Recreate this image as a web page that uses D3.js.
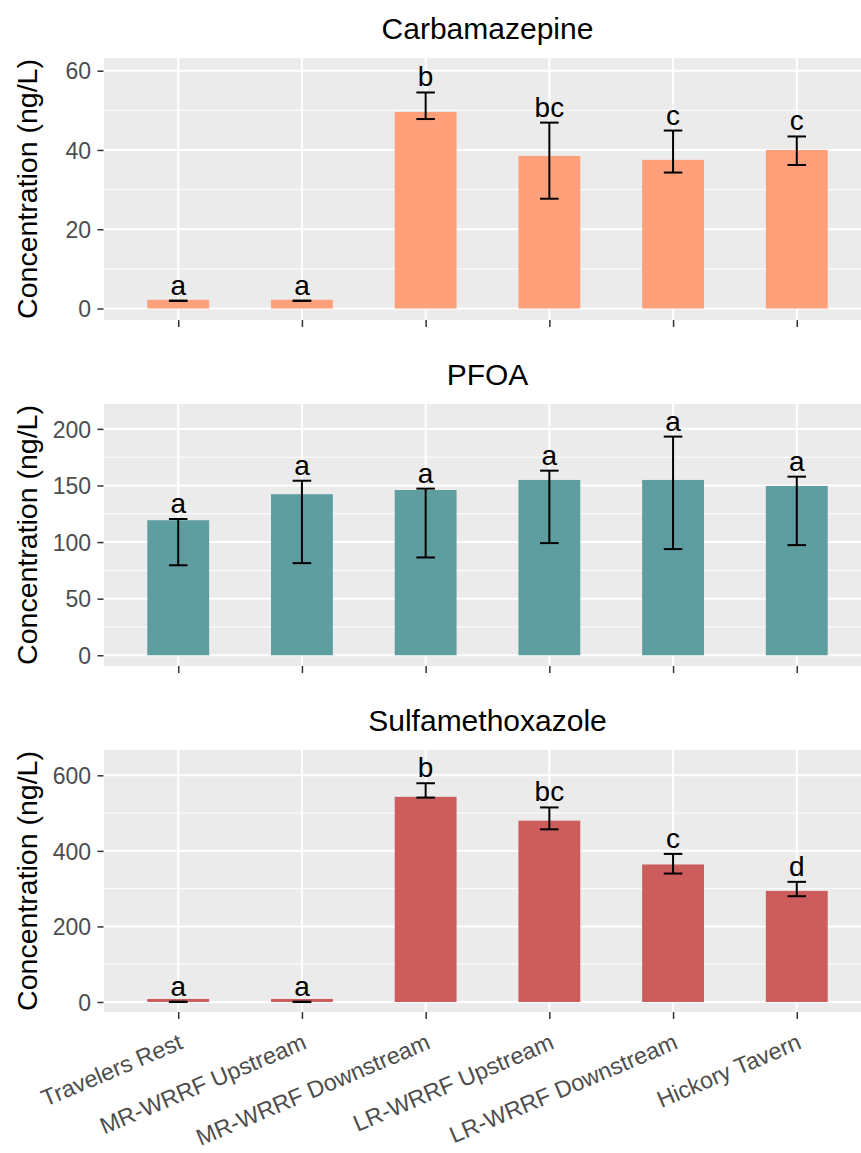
<!DOCTYPE html>
<html>
<head>
<meta charset="utf-8">
<script src="https://cdn.jsdelivr.net/npm/d3@7"></script>
<style>
  html, body { margin: 0; padding: 0; background: #ffffff; }
  svg { display: block; font-family: "Liberation Sans", Arial, sans-serif; }
</style>
</head>
<body>
<script>
// ---------------- data ----------------
const sites = ["Travelers Rest", "MR-WRRF Upstream", "MR-WRRF Downstream",
               "LR-WRRF Upstream", "LR-WRRF Downstream", "Hickory Tavern"];

const titles = ["Carbamazepine", "PFOA", "Sulfamethoxazole"];

const carbMean = [2.2, 2.2, 49.6, 38.5, 37.5, 40.0];
const carbLow  = [1.9, 1.9, 47.8, 27.7, 34.3, 36.2];
const carbHigh = [2.0, 2.0, 54.5, 46.9, 44.9, 43.4];
const carbLetters = ["a", "a", "b", "bc", "c", "c"];

const pfoaMean = [119.3, 142.3, 146.0, 154.9, 154.9, 149.6];
const pfoaLow  = [79.5, 81.4, 86.4, 99.1, 93.8, 97.3];
const pfoaHigh = [120.4, 154.2, 147.2, 163.1, 193.2, 157.8];
const pfoaLetters = ["a", "a", "a", "a", "a", "a"];

const sulfaMean = [8, 8, 543, 480, 364, 294];
const sulfaLow  = [0, 0, 541, 457, 340, 280];
const sulfaHigh = [1, 1, 579, 515, 392, 318];
const sulfaLetters = ["a", "a", "b", "bc", "c", "d"];

const carbTicks  = [0, 20, 40, 60];
const pfoaTicks  = [0, 50, 100, 150, 200];
const sulfaTicks = [0, 200, 400, 600];

const carbMinor  = [10, 30, 50];
const pfoaMinor  = [25, 75, 125, 175];
const sulfaMinor = [100, 300, 500];

const yLabel = "Concentration (ng/L)";

// ---------------- layout / style ----------------
const W = 861, H = 1153;
const panelLeft = 104, panelRight = 871;
const layout = [
  { top: 58,  bottom: 320,  titleY: 38.5, domain: [-2.9, 63.2], color: "#FFA07A" },
  { top: 404, bottom: 666,  titleY: 385,  domain: [-9.5, 222],  color: "#5F9EA0" },
  { top: 750, bottom: 1012, titleY: 731,  domain: [-26.5, 667], color: "#CD5C5C" }
];

const panels = [
  { title: titles[0], mean: carbMean, low: carbLow, high: carbHigh, letters: carbLetters, ticks: carbTicks, minor: carbMinor },
  { title: titles[1], mean: pfoaMean, low: pfoaLow, high: pfoaHigh, letters: pfoaLetters, ticks: pfoaTicks, minor: pfoaMinor },
  { title: titles[2], mean: sulfaMean, low: sulfaLow, high: sulfaHigh, letters: sulfaLetters, ticks: sulfaTicks, minor: sulfaMinor }
];

const svg = d3.select("body").append("svg")
  .attr("width", W).attr("height", H)
  .attr("viewBox", `0 0 ${W} ${H}`);

const x = d3.scalePoint().domain(sites).range([panelLeft, panelRight]).padding(0.6);
const barW = x.step() * 0.5;
const capW = x.step() * 0.15;

panels.forEach((p, i) => {
  const L = layout[i];
  const y = d3.scaleLinear().domain(L.domain).range([L.bottom, L.top]);
  const g = svg.append("g");

  // panel background
  g.append("rect")
    .attr("x", panelLeft).attr("y", L.top)
    .attr("width", panelRight - panelLeft).attr("height", L.bottom - L.top)
    .attr("fill", "#EBEBEB");

  // minor gridlines
  g.selectAll(".minor").data(p.minor).join("line")
    .attr("x1", panelLeft).attr("x2", panelRight)
    .attr("y1", d => y(d)).attr("y2", d => y(d))
    .attr("stroke", "#ffffff").attr("stroke-width", 1);

  // major gridlines
  g.selectAll(".major").data(p.ticks).join("line")
    .attr("x1", panelLeft).attr("x2", panelRight)
    .attr("y1", d => y(d)).attr("y2", d => y(d))
    .attr("stroke", "#ffffff").attr("stroke-width", 2);

  g.selectAll(".vmajor").data(sites).join("line")
    .attr("x1", d => x(d)).attr("x2", d => x(d))
    .attr("y1", L.top).attr("y2", L.bottom)
    .attr("stroke", "#ffffff").attr("stroke-width", 2);

  // bars
  g.selectAll(".bar").data(sites).join("rect")
    .attr("x", d => x(d) - barW / 2)
    .attr("width", barW)
    .attr("y", (d, k) => y(p.mean[k]))
    .attr("height", (d, k) => y(0) - y(p.mean[k]))
    .attr("fill", L.color);

  // error bars
  const eb = g.selectAll(".eb").data(sites).join("g");
  eb.append("line")
    .attr("x1", d => x(d)).attr("x2", d => x(d))
    .attr("y1", (d, k) => y(p.low[k])).attr("y2", (d, k) => y(p.high[k]))
    .attr("stroke", "#000").attr("stroke-width", 2);
  eb.append("line")
    .attr("x1", d => x(d) - capW / 2).attr("x2", d => x(d) + capW / 2)
    .attr("y1", (d, k) => y(p.low[k])).attr("y2", (d, k) => y(p.low[k]))
    .attr("stroke", "#000").attr("stroke-width", 2);
  eb.append("line")
    .attr("x1", d => x(d) - capW / 2).attr("x2", d => x(d) + capW / 2)
    .attr("y1", (d, k) => y(p.high[k])).attr("y2", (d, k) => y(p.high[k]))
    .attr("stroke", "#000").attr("stroke-width", 2);

  // letters
  g.selectAll(".let").data(sites).join("text")
    .attr("x", d => x(d))
    .attr("y", (d, k) => y(p.high[k]) - 6)
    .attr("text-anchor", "middle")
    .attr("font-size", 28)
    .attr("fill", "#000")
    .text((d, k) => p.letters[k]);

  // y axis
  const ya = g.append("g")
    .attr("transform", `translate(${panelLeft - 0.5},0)`)
    .call(d3.axisLeft(y).tickValues(p.ticks).tickSize(6).tickPadding(6.5).tickFormat(d3.format("d")));
  ya.select(".domain").remove();
  ya.selectAll(".tick line").attr("stroke", "#333333").attr("stroke-width", 1.5);
  ya.selectAll(".tick text")
    .attr("fill", "#4D4D4D")
    .attr("font-size", 23)
    .attr("font-family", "Liberation Sans, Arial, sans-serif")
    .attr("dy", "0.36em");

  // x axis
  const xa = g.append("g")
    .attr("transform", `translate(0,${L.bottom})`)
    .call(d3.axisBottom(x).tickSize(7));
  xa.select(".domain").remove();
  xa.selectAll(".tick line").attr("stroke", "#333333").attr("stroke-width", 1.5);
  if (i === panels.length - 1) {
    xa.selectAll(".tick text")
      .attr("x", 0).attr("y", 0).attr("dy", 0)
      .attr("text-anchor", "end")
      .attr("transform", "translate(5.5,36) rotate(-23)")
      .attr("fill", "#4D4D4D")
      .attr("font-size", 23.3)
      .attr("font-family", "Liberation Sans, Arial, sans-serif");
  } else {
    xa.selectAll(".tick text").remove();
  }

  // title
  svg.append("text")
    .attr("x", (panelLeft + panelRight) / 2)
    .attr("y", L.titleY)
    .attr("text-anchor", "middle")
    .attr("font-size", 30)
    .attr("fill", "#000")
    .text(p.title);

  // y axis title
  const cy = (L.top + L.bottom) / 2;
  svg.append("text")
    .attr("transform", `translate(37,${cy}) rotate(-90)`)
    .attr("text-anchor", "middle")
    .attr("font-size", 28.5)
    .attr("fill", "#000")
    .text(yLabel);
});
</script>
</body>
</html>
